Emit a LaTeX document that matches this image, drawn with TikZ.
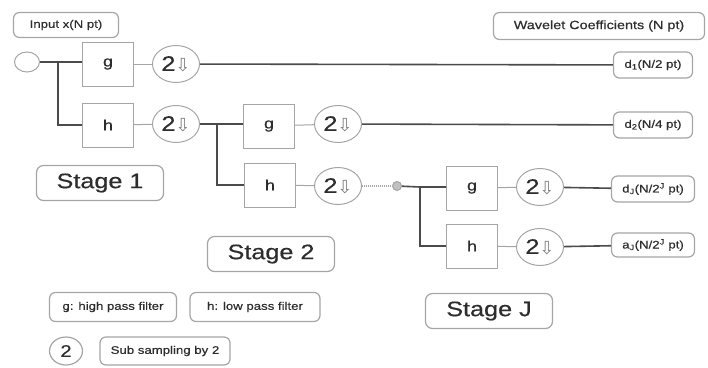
\documentclass[tikz,border=0pt]{standalone}
\usepackage{fontspec}
\setmainfont{Liberation Sans}
\newfontfamily\widefont[FakeStretch=1.2, FakeBold=0.5]{Liberation Sans}
\newfontfamily\arrowfont{DejaVu Sans}
\usetikzlibrary{shapes.geometric}
\definecolor{boxgray}{RGB}{165,165,165}
\definecolor{linegray}{RGB}{75,75,75}
\definecolor{textgray}{RGB}{45,45,45}
\newcommand{\down}{\raisebox{-0.05ex}{\color{gray}\arrowfont\fontsize{18}{18}\selectfont ⇩}}
\tikzset{
	filt/.style={draw=boxgray, line width=1pt, minimum width=51pt, minimum height=44pt, text=textgray, font=\widefont\fontsize{15}{15}\selectfont},
	ds/.style={draw=boxgray, line width=1pt, ellipse, minimum width=47pt, minimum height=37pt, inner sep=0pt, text=textgray, font=\widefont\fontsize{21}{21}\selectfont},
	tag/.style={draw=boxgray, line width=1.2pt, rounded corners=6pt, text=textgray, inner sep=3pt, font=\widefont\fontsize{11}{11}\selectfont},
	stagebox/.style={draw=boxgray, line width=1.2pt, rounded corners=7pt, text=textgray, minimum width=127pt, minimum height=35pt, font=\widefont\fontsize{21}{21}\selectfont},
	wire/.style={draw=linegray, line width=1.6pt},
	thinwire/.style={draw=boxgray, line width=1pt}
}
\begin{document}
\begin{tikzpicture}[x=1pt, y=-1pt]
	\useasboundingbox (0,0) rectangle (708,367);
	% labels on top
	\node[tag, minimum width=105pt, minimum height=25pt] (inlabel) at (66,25) {Input x(N pt)};
	\node[tag, minimum width=211pt, minimum height=27pt, font=\widefont\fontsize{12}{12}\selectfont] (outlabel) at (599,26) {Wavelet Coefficients (N pt)};
	% stage 1
	\node[draw=boxgray, line width=1pt, ellipse, minimum width=25pt, minimum height=20pt] (input) at (27,62) {};
	\coordinate (j1) at (58,62);
	\node[filt] (g1) at (108,64) {g};
	\node[ds] (dsg1) at (176,64) {2\down};
	\node[filt] (h1) at (108,125) {h};
	\node[ds] (dsh1) at (176,124) {2\down};
	\node[tag, minimum width=79pt, minimum height=26pt] (d1) at (653,65) {d\textsubscript{1}(N/2 pt)};
	\draw[wire] (input) -- (j1) -- (j1 -| g1.west);
	\draw[wire] (j1) |- (h1.west);
	\draw[thinwire] (g1) -- (dsg1);
	\draw[wire] (dsg1) -- (d1);
	\draw[thinwire] (h1) -- (dsh1);
	% stage 2
	\coordinate (j2) at (217,124);
	\node[filt] (g2) at (269,126) {g};
	\node[ds] (dsg2) at (338,124) {2\down};
	\node[filt] (h2) at (270,185) {h};
	\node[ds] (dsh2) at (338,186) {2\down};
	\node[tag, minimum width=79pt, minimum height=26pt] (d2) at (653,125) {d\textsubscript{2}(N/4 pt)};
	\draw[wire] (dsh1) -- (j2) -- (j2 -| g2.west);
	\draw[wire] (j2) |- (h2.west);
	\draw[thinwire] (g2) -- (dsg2);
	\draw[wire] (dsg2) -- (d2);
	\draw[thinwire] (h2) -- (dsh2);
	% stage J
	\node[circle, draw=boxgray, fill=boxgray!70, line width=1pt, minimum size=9pt, inner sep=0pt] (dot) at (397,186) {};
	\draw[thinwire, densely dotted, line width=1.6pt] (dsh2) -- (dot);
	\coordinate (j3) at (420,187);
	\node[filt] (gJ) at (472,188) {g};
	\node[ds] (dsgJ) at (540,187) {2\down};
	\node[filt] (hJ) at (472,246) {h};
	\node[ds] (dshJ) at (540,247) {2\down};
	\node[tag, minimum width=83pt, minimum height=26pt] (dJ) at (653,189) {d\textsubscript{J}(N/2\textsuperscript{J} pt)};
	\node[tag, minimum width=83pt, minimum height=24pt] (aJ) at (653,245) {a\textsubscript{J}(N/2\textsuperscript{J} pt)};
	\draw[wire] (dot) -- (j3) -- (j3 -| gJ.west);
	\draw[wire] (j3) |- (hJ.west);
	\draw[thinwire] (gJ) -- (dsgJ);
	\draw[wire] (dsgJ) -- (dJ);
	\draw[thinwire] (hJ) -- (dshJ);
	\draw[wire] (dshJ) -- (aJ);
	% stage names
	\node[stagebox] (stage1) at (100,183) {Stage 1};
	\node[stagebox] (stage2) at (271,254) {Stage 2};
	\node[stagebox] (stageJ) at (489,311) {Stage J};
	% legend
	\node[tag, minimum width=127pt, minimum height=29pt] (hpf) at (113,307) {g: high pass filter};
	\node[tag, minimum width=130pt, minimum height=29pt] (lpf) at (255,307) {h: low pass filter};
	\node[draw=boxgray, line width=1.2pt, ellipse, minimum width=33pt, minimum height=28pt, inner sep=0pt, text=textgray, font=\widefont\fontsize{17}{17}\selectfont] (ds) at (66,351) {2};
	\node[tag, minimum width=130pt, minimum height=28pt] (sub) at (165,351) {Sub sampling by 2};
\end{tikzpicture}
\end{document}
